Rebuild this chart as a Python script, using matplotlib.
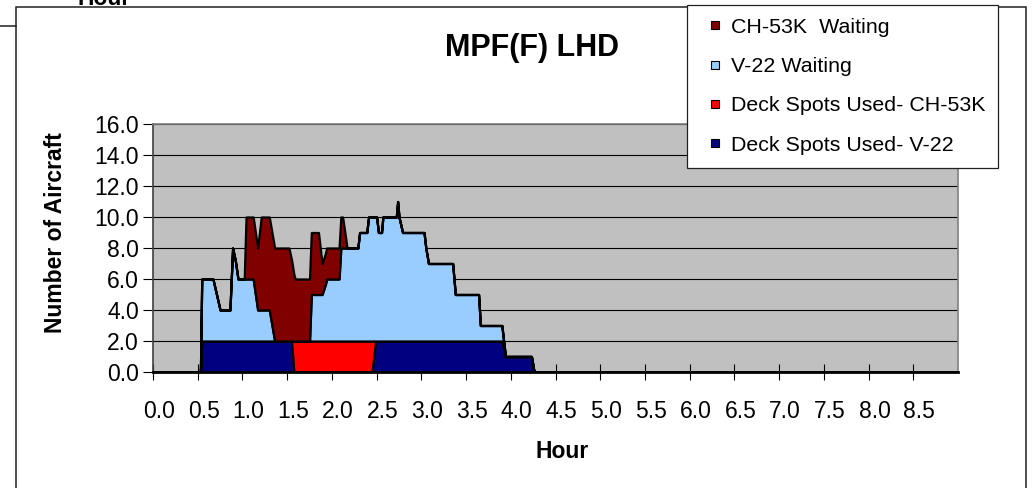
import numpy as np
import matplotlib
matplotlib.use('Agg')
import matplotlib.pyplot as plt
from matplotlib.lines import Line2D
from matplotlib.patches import Rectangle
from matplotlib.transforms import ScaledTranslation

plt.rcParams['font.family'] = ['Liberation Sans', 'DejaVu Sans']

# hours (category position) and aircraft counts per series
hours = [0.00, 0.53, 0.545, 0.67, 0.75, 0.86, 0.89, 0.92, 0.95, 1.02, 1.04,
         1.12, 1.17, 1.21, 1.30, 1.36, 1.52, 1.55, 1.575, 1.59, 1.75, 1.77,
         1.85, 1.89, 1.93, 1.94, 2.08, 2.10, 2.12, 2.17, 2.29, 2.31, 2.39,
         2.41, 2.447, 2.489, 2.50, 2.52, 2.555, 2.57, 2.72, 2.735, 2.75, 2.79,
         3.03, 3.05, 3.08, 3.35, 3.38, 3.64, 3.66, 3.90, 3.93, 3.94, 4.23,
         4.26, 9.00]
deck_v22 = [0, 0, 2, 2, 2, 2, 2, 2, 2, 2, 2,
            2, 2, 2, 2, 2, 2, 2, 0, 0, 0, 0,
            0, 0, 0, 0, 0, 0, 0, 0, 0, 0, 0,
            0, 0, 2, 2, 2, 2, 2, 2, 2, 2, 2,
            2, 2, 2, 2, 2, 2, 2, 2, 1.3, 1, 1,
            0, 0]
deck_ch53k = [0, 0, 0, 0, 0, 0, 0, 0, 0, 0, 0,
              0, 0, 0, 0, 0, 0, 0, 2, 2, 2, 2,
              2, 2, 2, 2, 2, 2, 2, 2, 2, 2, 2,
              2, 2, 0, 0, 0, 0, 0, 0, 0, 0, 0,
              0, 0, 0, 0, 0, 0, 0, 0, 0, 0, 0,
              0, 0]
wait_v22 = [0, 0, 4, 4, 2, 2, 6, 5.2, 4, 4, 4,
            4, 2, 2, 2, 0, 0, 0, 0, 0, 0, 3,
            3, 3, 3.7, 4, 4, 6, 6, 6, 6, 7, 7,
            8, 8, 8, 8, 7, 7, 8, 8, 9, 8, 7,
            7, 6, 5, 5, 3, 3, 1, 1, 0.2, 0, 0,
            0, 0]
wait_ch53k = [0, 0, 0, 0, 0, 0, 0, 0, 0, 0, 4,
              4, 4, 6, 6, 6, 6, 5.2, 4.3, 4, 4, 4,
              4, 2, 2, 2, 2, 2, 2, 0, 0, 0, 0,
              0, 0, 0, 0, 0, 0, 0, 0, 0, 0, 0,
              0, 0, 0, 0, 0, 0, 0, 0, 0, 0, 0,
              0, 0]

labels = ['Deck Spots Used- V-22', 'Deck Spots Used- CH-53K',
          'V-22 Waiting', 'CH-53K  Waiting']
colors = ['#000080', '#FF0000', '#99CCFF', '#800000']
x_ticks = np.arange(0, 9.0, 0.5)
y_ticks = np.arange(0, 17, 2)

fig = plt.figure(figsize=(10.32, 4.88), dpi=100)
ax = fig.add_axes([153 / 1032, 1 - 372 / 488, 805 / 1032, 248 / 488])
ax.set_facecolor('#C0C0C0')

ax.stackplot(hours, deck_v22, deck_ch53k, wait_v22, wait_ch53k,
             colors=colors, labels=labels, edgecolor='black', linewidth=1.6,
             zorder=3)

ax.set_xlim(0, 9.0)
ax.set_ylim(0, 16)
ax.set_yticks(y_ticks)
ax.set_yticklabels([f'{v:.1f}' for v in y_ticks])
ax.set_xticks(x_ticks)
ax.set_xticklabels([f'{v:.1f}' for v in x_ticks])
ax.grid(axis='y', color='black', linewidth=0.8, zorder=1)
ax.set_axisbelow(True)

ax.tick_params(axis='x', direction='inout', length=12, width=0.8, pad=14,
               labelsize=16.5, colors='black')
ax.tick_params(axis='y', direction='out', length=7, width=0.8, pad=3,
               labelsize=16.5)
for lab in ax.get_xticklabels():
    lab.set_transform(lab.get_transform() + ScaledTranslation(0.06, 0, fig.dpi_scale_trans))

for side in ['top', 'right']:
    ax.spines[side].set_color('#808080')
    ax.spines[side].set_linewidth(1.2)
ax.spines['left'].set_color('#404040')
ax.spines['left'].set_linewidth(1.2)
ax.spines['bottom'].set_color('black')
ax.spines['bottom'].set_linewidth(2)
ax.spines['bottom'].set_zorder(4)

# chart area border and remains of the chart above
fig.patches.append(Rectangle((16 / 1032, -0.1), 1010 / 1032, 1.1 - 6.7 / 488,
                             transform=fig.transFigure, fill=False,
                             edgecolor='#202020', linewidth=1.1, zorder=0))
fig.lines.append(Line2D([0, 16 / 1032], [1 - 26 / 488, 1 - 26 / 488],
                        transform=fig.transFigure, color='#202020', linewidth=1.1))
fig.text(104 / 1032, 1 - 5 / 488, 'Hour', ha='center', va='baseline',
         fontsize=16.5, fontweight='bold')

fig.text(532 / 1032, 1 - 48 / 488, 'MPF(F) LHD', ha='center', va='center',
         fontsize=22, fontweight='bold')
fig.text(562 / 1032, 1 - 451 / 488, 'Hour', ha='center', va='center',
         fontsize=16.5, fontweight='bold')
fig.text(56 / 1032, 1 - 233 / 488, 'Number of Aircraft', ha='center',
         va='center', rotation=90, fontsize=16.5, fontweight='bold')

handles = [Line2D([], [], linestyle='none', marker='s', markersize=6,
                  markerfacecolor=c, markeredgecolor='black',
                  markeredgewidth=0.8) for c in colors]
leg = fig.legend(handles[::-1], labels[::-1], loc='upper left',
                 bbox_to_anchor=(687 / 1032, 1 - 5 / 488),
                 bbox_transform=fig.transFigure, borderaxespad=0,
                 fontsize=15.4, frameon=True, fancybox=False, framealpha=1,
                 edgecolor='#202020', borderpad=0.6, labelspacing=0.95,
                 handlelength=1.45, handletextpad=0.0)
leg.get_frame().set_linewidth(0.9)
leg.set_zorder(10)

fig.savefig('out.png', dpi=100)
